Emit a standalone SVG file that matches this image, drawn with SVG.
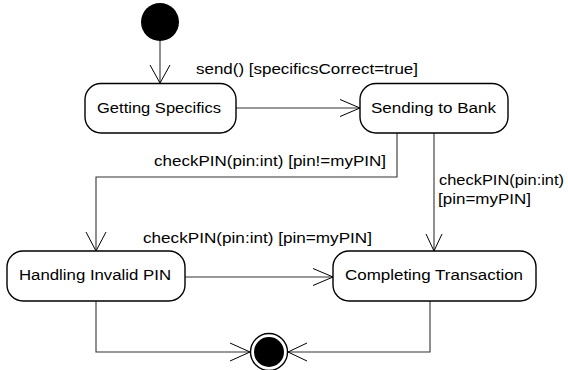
<svg xmlns="http://www.w3.org/2000/svg" width="568" height="370" viewBox="0 0 568 370">
<defs>
<style>
.state{fill:#fff;stroke:#000;stroke-width:1.4}
.lbl{font-family:"Liberation Sans",Arial,sans-serif;font-size:15.2px;fill:#000}
.conn{fill:none;stroke:#333;stroke-width:1.1}
.head{fill:none;stroke:#000;stroke-width:1}
</style>
</defs>
<rect width="568" height="370" fill="#fff"/>
<g id="connectors">
<line class="conn" x1="160" y1="41" x2="160" y2="83"/>
<polyline class="head" points="150,65 160,83 170,65"/>
<line class="conn" x1="236" y1="108" x2="360" y2="108"/>
<polyline class="head" points="340,99.5 360,108 340,116.5"/>
<polyline class="conn" points="397,133 397,177 96,177 96,251"/>
<polyline class="head" points="86,232 96,251 106,232"/>
<line class="conn" x1="434" y1="133" x2="434" y2="251"/>
<polyline class="head" points="426,234 434,251 442,234"/>
<line class="conn" x1="185" y1="277" x2="333" y2="277"/>
<polyline class="head" points="313,268.5 333,277 313,285.5"/>
<polyline class="conn" points="96,301 96,352 250,352"/>
<polyline class="head" points="230,343 250,352 230,361"/>
<polyline class="conn" points="430,301 430,352 288,352"/>
<polyline class="head" points="307,343 288,352 307,361"/>
<text class="lbl" x="196" y="74" textLength="222" lengthAdjust="spacingAndGlyphs">send() [specificsCorrect=true]</text>
<text class="lbl" x="154" y="166" textLength="232" lengthAdjust="spacingAndGlyphs">checkPIN(pin:int) [pin!=myPIN]</text>
<text class="lbl" x="439" y="185" textLength="125" lengthAdjust="spacingAndGlyphs">checkPIN(pin:int)</text>
<text class="lbl" x="438" y="204" textLength="93" lengthAdjust="spacingAndGlyphs">[pin=myPIN]</text>
<text class="lbl" x="143" y="243" textLength="229" lengthAdjust="spacingAndGlyphs">checkPIN(pin:int) [pin=myPIN]</text>
</g>
<g id="initial">
<circle cx="160" cy="22" r="19" fill="#000"/>
</g>
<g id="getting-specifics">
<rect class="state" x="85" y="83.5" width="151" height="49.5" rx="16" ry="16"/>
<text class="lbl" x="97" y="113" textLength="124" lengthAdjust="spacingAndGlyphs">Getting Specifics</text>
</g>
<g id="sending-to-bank">
<rect class="state" x="360" y="83.5" width="148" height="49.5" rx="16" ry="16"/>
<text class="lbl" x="371" y="113" textLength="125" lengthAdjust="spacingAndGlyphs">Sending to Bank</text>
</g>
<g id="handling-invalid-pin">
<rect class="state" x="7" y="251" width="178" height="50" rx="16" ry="16"/>
<text class="lbl" x="19" y="280" textLength="152" lengthAdjust="spacingAndGlyphs">Handling Invalid PIN</text>
</g>
<g id="completing-transaction">
<rect class="state" x="333" y="251" width="203" height="50" rx="16" ry="16"/>
<text class="lbl" x="345" y="280" textLength="178" lengthAdjust="spacingAndGlyphs">Completing Transaction</text>
</g>
<g id="final">
<circle cx="269" cy="352" r="18.5" fill="#fff" stroke="#000" stroke-width="1.4"/>
<circle cx="269" cy="352" r="15" fill="#000"/>
</g>
</svg>
